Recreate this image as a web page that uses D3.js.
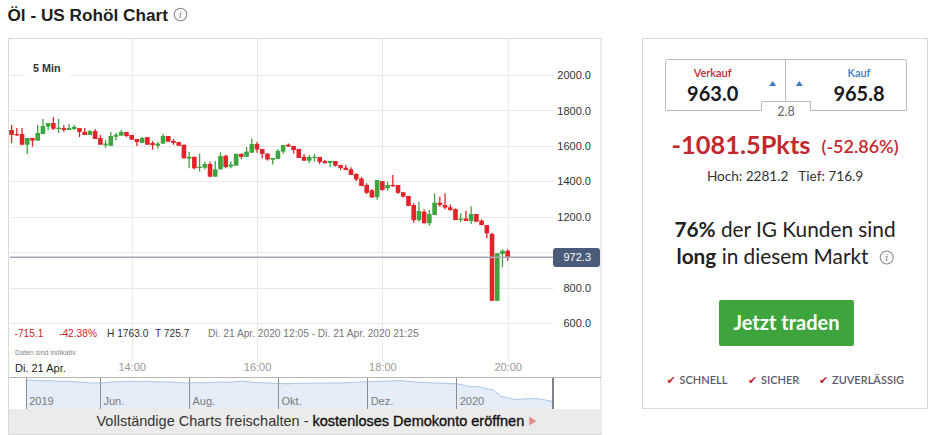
<!DOCTYPE html>
<html><head><meta charset="utf-8">
<script src="https://cdn.jsdelivr.net/npm/d3@7"></script>
<style>body{margin:0;background:#fff;overflow:hidden}svg{display:block}</style>
</head><body>
<svg id="c" width="932" height="435"></svg>
<script>
// ---------- DATA ----------
const candleStart = [2020, 3, 21, 12, 5]; // Di. 21 Apr. 2020 12:05, 5-Min-Kerzen
const intervalMin = 5;
const candleOpen  = [1690,1667,1667,1607,1645,1630,1667,1709,1729,1700,1701,1690,1696,1701,1679,1662,1684,1645,1604,1601,1652,1658,1679,1662,1639,1617,1650,1617,1601,1613,1656,1628,1622,1607,1528,1539,1477,1477,1498,1427,1468,1545,1483,1489,1556,1539,1562,1611,1583,1557,1522,1526,1568,1607,1600,1583,1538,1517,1532,1538,1515,1504,1515,1493,1477,1468,1442,1416,1380,1350,1311,1402,1361,1380,1380,1339,1318,1267,1182,1229,1164,1211,1280,1267,1254,1244,1185,1191,1177,1216,1179,1154,1104,727,991,1009];
const candleHigh  = [1718,1701,1701,1645,1645,1718,1752,1729,1763,1752,1718,1724,1718,1701,1701,1690,1696,1662,1633,1679,1673,1690,1679,1662,1639,1650,1650,1628,1624,1667,1656,1639,1622,1607,1566,1539,1556,1511,1511,1515,1564,1551,1513,1556,1556,1594,1642,1622,1583,1557,1532,1583,1605,1614,1600,1583,1555,1549,1555,1538,1521,1515,1515,1493,1493,1480,1446,1426,1389,1357,1408,1402,1398,1436,1380,1339,1318,1277,1286,1243,1239,1333,1314,1333,1270,1248,1220,1234,1260,1216,1186,1154,1111,995,1017,1017];
const candleLow   = [1617,1656,1604,1554,1596,1630,1667,1690,1690,1673,1679,1690,1690,1650,1662,1662,1639,1607,1590,1601,1630,1658,1650,1633,1600,1617,1607,1579,1585,1613,1624,1607,1601,1530,1474,1468,1455,1468,1423,1427,1468,1474,1474,1489,1525,1539,1562,1562,1529,1517,1495,1526,1556,1594,1557,1532,1517,1504,1511,1498,1498,1481,1483,1464,1464,1436,1402,1374,1329,1309,1296,1348,1348,1369,1329,1310,1260,1167,1173,1164,1150,1211,1257,1243,1234,1182,1170,1177,1160,1173,1152,1079,725.7,725.7,916,953];
const candleClose = [1662,1662,1607,1645,1630,1673,1712,1729,1697,1703,1690,1701,1707,1679,1662,1684,1639,1607,1613,1656,1663,1679,1656,1636,1622,1645,1607,1605,1613,1656,1624,1617,1601,1530,1539,1474,1483,1498,1427,1468,1543,1481,1496,1556,1538,1568,1611,1580,1555,1524,1532,1572,1605,1597,1577,1532,1517,1538,1539,1510,1504,1515,1489,1476,1464,1436,1411,1374,1336,1309,1408,1352,1380,1374,1336,1314,1262,1182,1233,1164,1216,1280,1267,1252,1239,1182,1191,1177,1216,1173,1154,1107,727,995,1009,972.3];
const priceTicks = [600, 800, 1000, 1200, 1400, 1600, 1800, 2000];
const timeTicks = ["14:00", "16:00", "18:00", "20:00"];
const lastPrice = 972.3;
const navValues = [5890,5830,5720,5770,5640,5580,5620,5480,5420,5240,5280,5400,5520,5560,5620,5540,5600,5560,5480,5520,5420,5320,5280,5360,5300,5400,5460,5420,5500,5680,5520,5360,5320,5260,5200,5120,5180,5220,5200,5280,5240,5300,5260,5320,5400,5480,5520,5580,5620,5680,5770,5700,5560,5440,5360,5280,5240,5160,5120,4830,4510,4590,4100,3860,2600,2270,1910,2030,2110,2070,1830,1520];
const navTickLabels = ["2019", "Jun.", "Aug.", "Okt.", "Dez.", "2020"];
const navTickIndex  = [0, 10, 22, 34, 46, 58];
const infoStats = ["-715.1", "-42.38%", "H 1763.0", "T 725.7"];

// ---------- SETUP ----------
const svg = d3.select("#c");
const F = "'Liberation Sans', Arial, sans-serif";
const P = "Lato, 'Open Sans', sans-serif";
const RED = "#e3232a", GREEN = "#3ea53e";

function infoIcon(cx, cy, r) {
  const g = svg.append("g");
  g.append("circle").attr("cx", cx).attr("cy", cy).attr("r", r).attr("fill", "none").attr("stroke", "#8a8a8a").attr("stroke-width", 1.1);
  g.append("text").attr("x", cx).attr("y", cy + r * 0.55).attr("text-anchor", "middle")
    .attr("font-family", "'DejaVu Serif', serif").attr("font-style", "italic").attr("font-size", r * 1.45).attr("fill", "#777").text("i");
}

// title
svg.append("text").attr("x", 7.5).attr("y", 21).attr("font-family", F).attr("font-weight", "bold")
  .attr("font-size", 17.2).attr("fill", "#1e1e1e").text("Öl - US Rohöl Chart");
infoIcon(180.5, 14.5, 6.3);

// chart panel
svg.append("rect").attr("x", 8.5).attr("y", 38.5).attr("width", 592.5).attr("height", 396).attr("fill", "#fff").attr("stroke", "#d9d9d9");

// scales
const t0 = new Date(candleStart[0], candleStart[1], candleStart[2], candleStart[3], candleStart[4]);
const times = candleOpen.map((_, i) => new Date(t0.getTime() + i * intervalMin * 60000));
const parseHM = s => { const [h, m] = s.split(":").map(Number); return new Date(2020, 3, 21, h, m); };
const x = d3.scaleTime().domain([parseHM("14:00"), parseHM("20:00")]).range([131.7, 507.7]);
const y = d3.scaleLinear().domain([600, 2000]).range([323.3, 75]);

// grid
const grid = svg.append("g");
grid.selectAll(".h").data(priceTicks).join("line")
  .attr("x1", 10).attr("x2", 553).attr("y1", d => Math.round(y(d)) + 0.5).attr("y2", d => Math.round(y(d)) + 0.5)
  .attr("stroke", "#e9e9e9").attr("stroke-width", 1);
grid.selectAll(".v").data(timeTicks).join("line")
  .attr("x1", d => Math.round(x(parseHM(d))) + 0.5).attr("x2", d => Math.round(x(parseHM(d))) + 0.5)
  .attr("y1", 39).attr("y2", 361).attr("stroke", "#e9e9e9").attr("stroke-width", 1);

// "5 Min" label
svg.append("rect").attr("x", 25).attr("y", 58).attr("width", 45).attr("height", 20).attr("fill", "#fff");
svg.append("text").attr("x", 33).attr("y", 72).attr("font-family", F).attr("font-weight", "bold")
  .attr("font-size", 10.8).attr("fill", "#333").text("5 Min");

// candles
const cw = 4.6;
const cg = svg.append("g");
const idx = d3.range(candleOpen.length);
cg.selectAll(".w").data(idx).join("line")
  .attr("x1", i => x(times[i])).attr("x2", i => x(times[i]))
  .attr("y1", i => y(candleHigh[i])).attr("y2", i => y(candleLow[i]))
  .attr("stroke", i => candleClose[i] >= candleOpen[i] ? GREEN : RED).attr("stroke-width", 1.3);
cg.selectAll(".b").data(idx).join("rect")
  .attr("x", i => x(times[i]) - cw / 2).attr("width", cw)
  .attr("y", i => y(Math.max(candleOpen[i], candleClose[i])))
  .attr("height", i => Math.max(1.3, Math.abs(y(candleOpen[i]) - y(candleClose[i]))))
  .attr("fill", i => candleClose[i] >= candleOpen[i] ? GREEN : RED);

// y axis (label hidden behind the last-price tag is left out)
const yAxis = d3.axisLeft(y).tickValues(priceTicks.filter(d => Math.abs(d - lastPrice) > 60))
  .tickSize(0).tickPadding(0).tickFormat(d3.format(".1f"));
const ya = svg.append("g").attr("transform", "translate(591,0)").call(yAxis);
ya.select(".domain").remove();
ya.selectAll("text").attr("font-family", F).attr("font-size", 11).attr("fill", "#333");

// last price line + label
svg.append("line").attr("x1", 10).attr("x2", 553).attr("y1", y(lastPrice)).attr("y2", y(lastPrice))
  .attr("stroke", "#a4abb6").attr("stroke-width", 1.4);
svg.append("rect").attr("x", 553).attr("y", y(lastPrice) - 9.3).attr("width", 47).attr("height", 19).attr("rx", 3)
  .attr("fill", "#4b5c7b");
svg.append("text").attr("x", 591).attr("y", y(lastPrice)).attr("dy", "0.35em").attr("text-anchor", "end")
  .attr("font-family", F).attr("font-size", 11).attr("fill", "#fff").text(d3.format(".1f")(lastPrice));

// info row
const infoX = [14.5, 59, 107, 155];
const infoCol = ["#d0262c", "#d0262c", "#333", "#333"];
infoStats.forEach((s, i) => svg.append("text").attr("x", infoX[i]).attr("y", 337).attr("font-family", F)
  .attr("font-size", 10.2).attr("fill", infoCol[i]).text(s));
svg.append("text").attr("x", 208).attr("y", 337).attr("font-family", F).attr("font-size", 10.2).attr("fill", "#777")
  .text("Di. 21 Apr. 2020 12:05 - Di. 21 Apr. 2020 21:25");
svg.append("text").attr("x", 15).attr("y", 355).attr("font-family", F).attr("font-size", 7).attr("fill", "#888")
  .text("Daten sind indikativ");

// x axis
const xAxis = d3.axisBottom(x).tickValues(timeTicks.map(parseHM)).tickSize(0).tickPadding(0).tickFormat(d3.timeFormat("%H:%M"));
const xa = svg.append("g").attr("transform", "translate(0,363.5)").call(xAxis);
xa.select(".domain").remove();
xa.selectAll("text").attr("font-family", F).attr("font-size", 11).attr("fill", "#999");
svg.append("text").attr("x", 15).attr("y", 371.5).attr("font-family", F).attr("font-size", 11).attr("fill", "#1e1e1e").text("Di. 21 Apr.");

// separator
svg.append("line").attr("x1", 9).attr("x2", 601).attr("y1", 377.5).attr("y2", 377.5).attr("stroke", "#b5b5b5");

// navigator
const nx = d3.scaleLinear().domain([0, navValues.length - 1]).range([25.7, 552.7]);
const ny = d3.scaleLinear().domain([0, 6500]).range([409, 377]);
svg.append("path").datum(navValues)
  .attr("d", d3.area().x((d, i) => nx(i)).y0(409).y1(d => ny(d)))
  .attr("fill", "#e4edf8");
svg.append("path").datum(navValues)
  .attr("d", d3.line().x((d, i) => nx(i)).y(d => ny(d)))
  .attr("fill", "none").attr("stroke", "#aac8e8").attr("stroke-width", 1);
navTickIndex.forEach((ti, k) => {
  svg.append("line").attr("x1", Math.round(nx(ti)) + 0.5).attr("x2", Math.round(nx(ti)) + 0.5)
    .attr("y1", 378).attr("y2", 409).attr("stroke", "#8d8d95");
  svg.append("text").attr("x", nx(ti) + 3.5).attr("y", 404.5).attr("font-family", F).attr("font-size", 11)
    .attr("fill", "#7a7a7a").text(navTickLabels[k]);
});
svg.append("line").attr("x1", 553).attr("x2", 553).attr("y1", 378).attr("y2", 409).attr("stroke", "#808088").attr("stroke-width", 2);

// banner
svg.append("rect").attr("x", 9).attr("y", 409).attr("width", 591.5).attr("height", 25).attr("fill", "#ebebeb");
const bt = svg.append("text").attr("x", 96.5).attr("y", 425.5).attr("font-family", F).attr("font-size", 14.5);
bt.append("tspan").attr("fill", "#333").text("Vollständige Charts freischalten - ");
bt.append("tspan").attr("fill", "#111").attr("stroke", "#111").attr("stroke-width", 0.35).text("kostenloses Demokonto eröffnen");
const btEnd = 96.5 + bt.node().getComputedTextLength();
svg.append("path").attr("d", `M${btEnd + 5},416.5 L${btEnd + 12},421 L${btEnd + 5},425.5 Z`).attr("fill", "#e58a8a");

// ---------- RIGHT PANEL ----------
svg.append("rect").attr("x", 642.5).attr("y", 38.5).attr("width", 285).attr("height", 370).attr("fill", "#fff").attr("stroke", "#d9d9d9");
svg.append("path").attr("d", "M665.5,61.5 Q665.5,59.5 667.5,59.5 H904.5 Q906.5,59.5 906.5,61.5 V110.5 H810.5 V101.5 H761.5 V110.5 H665.5 Z")
  .attr("fill", "none").attr("stroke", "#b9b9b9");
svg.append("line").attr("x1", 785.5).attr("x2", 785.5).attr("y1", 60).attr("y2", 101.5).attr("stroke", "#b9b9b9");
const sellBuy = [["Verkauf", "963.0", 712.7, "#c2282e"], ["Kauf", "965.8", 859, "#3b7cc2"]];
sellBuy.forEach(([lab, val, cx, col]) => {
  svg.append("text").attr("x", cx).attr("y", 76.5).attr("text-anchor", "middle").attr("font-family", P)
    .attr("font-size", 11).attr("font-weight", 600).attr("fill", col).text(lab);
  svg.append("text").attr("x", cx).attr("y", 100.5).attr("text-anchor", "middle").attr("font-family", P)
    .attr("font-size", 20).attr("font-weight", "bold").attr("fill", "#1a1a1a").text(val);
});
[772.7, 799.3].forEach(cx => svg.append("path").attr("d", `M${cx - 3.5},86 L${cx},81 L${cx + 3.5},86 Z`).attr("fill", "#3b7cc2"));
svg.append("text").attr("x", 786).attr("y", 115.5).attr("text-anchor", "middle").attr("font-family", P)
  .attr("font-size", 12.5).attr("fill", "#666").text("2.8");

svg.append("text").attr("x", 671.5).attr("y", 153.5).attr("font-family", P).attr("font-size", 25.4)
  .attr("font-weight", "bold").attr("fill", "#c2282e").text("-1081.5Pkts");
svg.append("text").attr("x", 821.5).attr("y", 153).attr("font-family", P).attr("font-size", 18)
  .attr("font-weight", 600).attr("fill", "#c2282e").text("(-52.86%)");
svg.append("text").attr("x", 785).attr("y", 181).attr("text-anchor", "middle").attr("font-family", P)
  .attr("font-size", 13.6).attr("fill", "#333").attr("xml:space", "preserve").text("Hoch: 2281.2   Tief: 716.9");

const l1 = svg.append("text").attr("x", 785).attr("y", 237).attr("text-anchor", "middle").attr("font-family", P)
  .attr("font-size", 20.8).attr("fill", "#222");
l1.append("tspan").attr("font-weight", "bold").text("76%");
l1.append("tspan").text(" der IG Kunden sind");
const l2 = svg.append("text").attr("x", 772.5).attr("y", 263.5).attr("text-anchor", "middle").attr("font-family", P)
  .attr("font-size", 20.8).attr("fill", "#222");
l2.append("tspan").attr("font-weight", "bold").text("long");
l2.append("tspan").text(" in diesem Markt");
infoIcon(886.7, 257.5, 6.5);

svg.append("rect").attr("x", 719).attr("y", 300).attr("width", 135).attr("height", 46).attr("rx", 2).attr("fill", "#3ea53e");
svg.append("text").attr("x", 786.5).attr("y", 329.5).attr("text-anchor", "middle").attr("font-family", P)
  .attr("font-size", 20).attr("font-weight", "bold").attr("fill", "#fff").text("Jetzt traden");

const checks = [["SCHNELL", 666.5], ["SICHER", 748], ["ZUVERLÄSSIG", 819]];
checks.forEach(([t, cx]) => {
  svg.append("text").attr("x", cx).attr("y", 383.5).attr("font-family", "'DejaVu Sans', sans-serif")
    .attr("font-size", 11).attr("fill", "#c2282e").text("✔");
  svg.append("text").attr("x", cx + 13).attr("y", 383.5).attr("font-family", P).attr("font-size", 11)
    .attr("font-weight", 600).attr("fill", "#5a5a66").text(t);
});
</script>
</body></html>
